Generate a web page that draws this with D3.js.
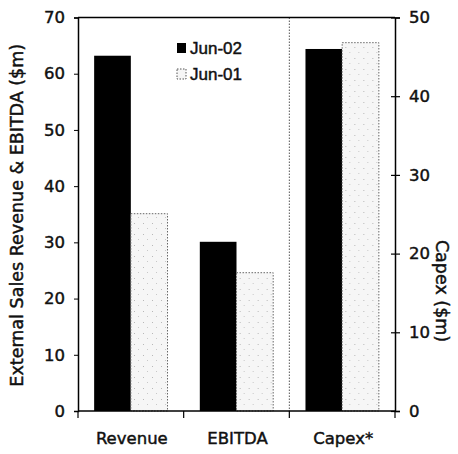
<!DOCTYPE html>
<html>
<head>
<meta charset="utf-8">
<script src="https://cdn.jsdelivr.net/npm/d3@7"></script>
<style>
  html, body { margin: 0; padding: 0; background: #fff; }
  svg { display: block; font-family: "DejaVu Sans", Verdana, sans-serif; }
</style>
</head>
<body>
<svg id="chart" width="458" height="454"></svg>
<script>
// Categories and series
const categories = ["Revenue", "EBITDA", "Capex*"];
const seriesNames = ["Jun-02", "Jun-01"];
const jun02 = [63.2, 30.1, 46.0];   // Capex on right axis
const jun01 = [35.1, 24.6, 46.8];
const leftTicks = [0, 10, 20, 30, 40, 50, 60, 70];
const rightTicks = [0, 10, 20, 30, 40, 50];
const rightAxisCategory = "Capex*";

const svg = d3.select("#chart");
const plotL = 78, plotR = 395, plotT = 17.5, plotB = 411;

const x = d3.scaleBand().domain(categories).range([plotL, plotR]).paddingInner(0).paddingOuter(0);
const xs = d3.scaleBand().domain(seriesNames).range([0, x.bandwidth()]).paddingOuter(0.44).paddingInner(0);
const yL = d3.scaleLinear().domain([0, 70]).range([plotB, plotT]);
const yR = d3.scaleLinear().domain([0, 50]).range([plotB, plotT]);

// pattern of specks for the light bars
const defs = svg.append("defs");
const pat = defs.append("pattern").attr("id", "speck").attr("width", 9).attr("height", 11)
  .attr("patternUnits", "userSpaceOnUse");
pat.append("rect").attr("width", 9).attr("height", 11).attr("fill", "#f6f6f6");
pat.append("rect").attr("x", 2).attr("y", 3).attr("width", 1).attr("height", 1).attr("fill", "#b8b8b8");
pat.append("rect").attr("x", 6).attr("y", 8).attr("width", 1).attr("height", 1).attr("fill", "#c8c8c8");

const rows = categories.map((c, i) => ({
  cat: c,
  vals: [
    { s: "Jun-02", v: jun02[i] },
    { s: "Jun-01", v: jun01[i] }
  ]
}));

// dotted separator before the Capex group
svg.append("line")
  .attr("x1", x(rightAxisCategory)).attr("x2", x(rightAxisCategory))
  .attr("y1", plotT).attr("y2", plotB)
  .attr("stroke", "#555").attr("stroke-width", 1).attr("stroke-dasharray", "1.5,1.5");

// bars
const g = svg.append("g").selectAll("g").data(rows).join("g")
  .attr("transform", d => `translate(${x(d.cat)},0)`);
g.selectAll("rect").data(d => d.vals.map(v => ({ ...v, cat: d.cat }))).join("rect")
  .attr("x", d => xs(d.s))
  .attr("width", xs.bandwidth())
  .attr("y", d => (d.cat === rightAxisCategory ? yR : yL)(d.v))
  .attr("height", d => plotB - (d.cat === rightAxisCategory ? yR : yL)(d.v))
  .attr("fill", d => d.s === "Jun-02" ? "#000" : "url(#speck)")
  .attr("stroke", d => d.s === "Jun-02" ? "none" : "#666")
  .attr("stroke-width", 1)
  .attr("stroke-dasharray", d => d.s === "Jun-02" ? null : "1.5,1.5");

// slightly heavy text, like the printed labels
function heavy(sel, size) {
  sel.attr("font-size", size).attr("font-weight", "normal")
    .attr("fill", "#111").attr("stroke", "#111").attr("stroke-width", 0.45);
}

// left axis
const axL = svg.append("g").attr("transform", `translate(${plotL},0)`)
  .call(d3.axisLeft(yL).tickValues(leftTicks).tickSize(4).tickPadding(9));
axL.select(".domain").attr("stroke", "#000").attr("stroke-width", 1.5);
axL.selectAll("text").call(heavy, "16.5px").attr("font-family", "'DejaVu Sans', Verdana, sans-serif");

// right axis, ticks crossing the line
const axR = svg.append("g").attr("transform", `translate(${plotR},0)`)
  .call(d3.axisRight(yR).tickValues(rightTicks).tickSize(5).tickPadding(9));
axR.select(".domain").attr("stroke", "#000").attr("stroke-width", 1.5);
axR.selectAll(".tick line").attr("x1", -4).attr("stroke-width", 1.2);
axR.selectAll("text").call(heavy, "16.5px").attr("font-family", "'DejaVu Sans', Verdana, sans-serif");

// bottom axis with ticks at group boundaries
const bounds = categories.map(c => x(c)).concat([plotR]);
svg.append("line").attr("x1", plotL).attr("x2", plotR).attr("y1", plotB).attr("y2", plotB)
  .attr("stroke", "#000").attr("stroke-width", 1.5);
svg.selectAll(".btick").data(bounds).join("line").attr("class", "btick")
  .attr("x1", d => d).attr("x2", d => d).attr("y1", plotB).attr("y2", plotB + 7)
  .attr("stroke", "#000").attr("stroke-width", 1.2);
svg.selectAll(".blab").data(categories).join("text").attr("class", "blab")
  .attr("x", d => x(d) + x.bandwidth() / 2 + 1)
  .attr("y", 444)
  .attr("text-anchor", "middle")
  .call(heavy, "16.5px")
  .text(d => d);

// top frame line
svg.append("line").attr("x1", plotL).attr("x2", plotR).attr("y1", plotT).attr("y2", plotT)
  .attr("stroke", "#000").attr("stroke-width", 1.5);

// axis titles
svg.append("text")
  .attr("transform", `translate(23,${(plotT + plotB) / 2 + 1}) rotate(-90)`)
  .attr("text-anchor", "middle")
  .call(heavy, "17.5px")
  .text("External Sales Revenue & EBITDA ($m)");
svg.append("text")
  .attr("transform", `translate(436,291) rotate(90)`)
  .attr("text-anchor", "middle")
  .call(heavy, "17.5px")
  .text("Capex ($m)");

// legend
const leg = svg.append("g").attr("transform", "translate(177,43)");
const li = leg.selectAll("g").data(seriesNames).join("g")
  .attr("transform", (d, i) => `translate(0,${i * 26})`);
li.append("rect").attr("width", 9).attr("height", 10)
  .attr("fill", d => d === "Jun-02" ? "#000" : "#f6f6f6")
  .attr("stroke", d => d === "Jun-02" ? "none" : "#555")
  .attr("stroke-dasharray", "1.5,1.5");
li.append("text").attr("x", 13).attr("y", 11)
  .attr("font-family", "'Liberation Sans', Arial, sans-serif")
  .call(heavy, "17px")
  .text(d => d);
</script>
</body>
</html>
